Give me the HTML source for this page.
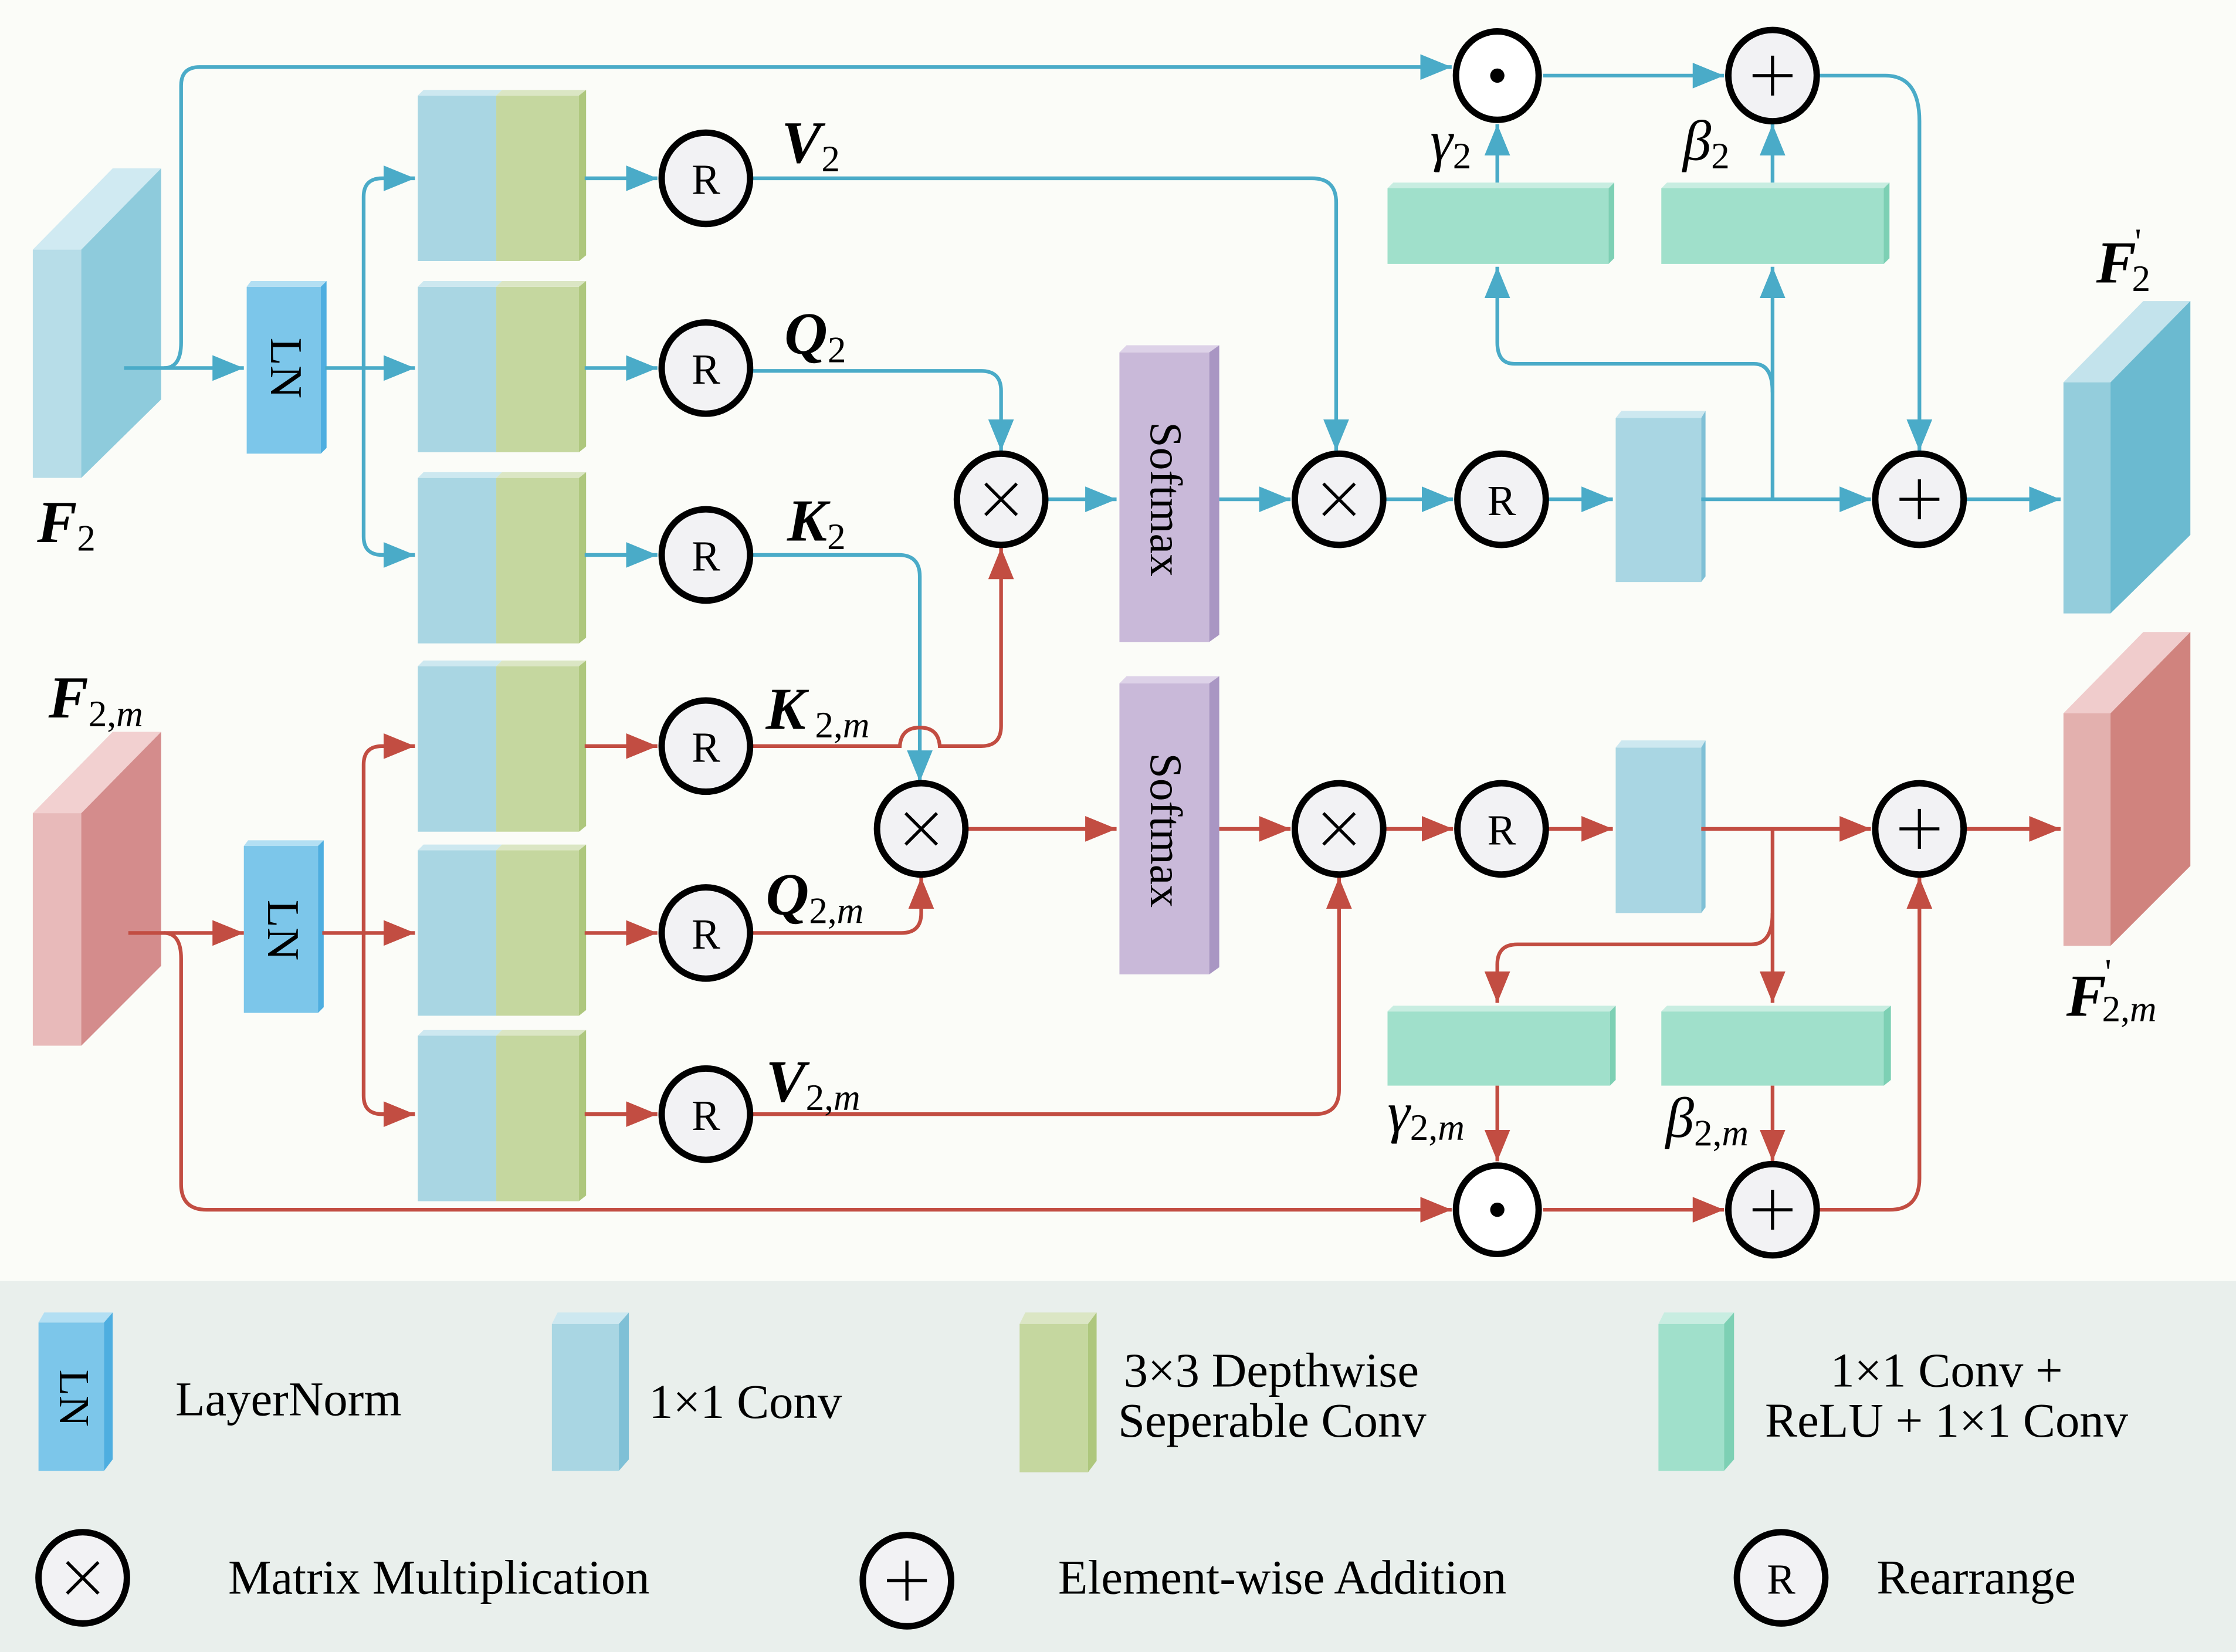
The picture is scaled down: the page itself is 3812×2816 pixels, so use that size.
<!DOCTYPE html>
<html><head><meta charset="utf-8"><style>
html,body{margin:0;padding:0;background:#fbfcf8}
svg{display:block}
text{font-family:"Liberation Serif",serif}
.lb{font-weight:bold;font-style:italic;font-size:42px}
.sb{font-size:26px;font-style:normal;font-weight:normal}
.si{font-size:26px;font-style:italic;font-weight:normal}
.c{fill:#f2f2f4;stroke:#000;stroke-width:4.5}
.bl{fill:none;stroke:#4aabc8;stroke-width:2.6}
.rd{fill:none;stroke:#c24d42;stroke-width:2.6}
.ct{font-size:30px;text-anchor:middle}
.lg{font-size:34px}
</style></head><body>
<svg width="3812" height="2816" viewBox="0 0 1568 1158" preserveAspectRatio="none" xmlns="http://www.w3.org/2000/svg">
<defs>
<marker id="ab" markerUnits="userSpaceOnUse" markerWidth="24" markerHeight="20" refX="22" refY="10" orient="auto"><path d="M0,1 L22,10 L0,19 z" fill="#4aabc8"/></marker>
<marker id="ar" markerUnits="userSpaceOnUse" markerWidth="24" markerHeight="20" refX="22" refY="10" orient="auto"><path d="M0,1 L22,10 L0,19 z" fill="#c24d42"/></marker>
</defs>
<rect x="0" y="0" width="1568" height="1158" fill="#fbfcf8"/>
<rect x="0" y="898" width="1568" height="260" fill="#e9efec"/>

<polygon points="23,175 79,118 113,118 57,175" fill="#d0eaf2"/>
<rect x="23" y="175" width="34" height="160" fill="#b7dde8"/>
<polygon points="57,175 113,118 113,280 57,335" fill="#8ecbdc"/>
<polygon points="23,570 79,513 113,513 57,570" fill="#f2d0d0"/>
<rect x="23" y="570" width="34" height="163" fill="#e8baba"/>
<polygon points="57,570 113,513 113,677 57,733" fill="#d48c8c"/>
<polygon points="1447,268 1503,211 1536,211 1480,268" fill="#c3e3ec"/>
<rect x="1447" y="268" width="33" height="162" fill="#94cddc"/>
<polygon points="1480,268 1536,211 1536,375 1480,430" fill="#6bbad0"/>
<polygon points="1447,500 1503,443 1536,443 1480,500" fill="#f0cccc"/>
<rect x="1447" y="500" width="33" height="163" fill="#e3b0ae"/>
<polygon points="1480,500 1536,443 1536,607 1480,663" fill="#d0837e"/>

<g>
<rect x="173" y="201" width="52" height="117" fill="#7cc6ea"/><polygon points="173,201 176,197 229,197 225,201" fill="#b3dff3"/><polygon points="225,201 229,197 229,314 225,318" fill="#4eaee0"/>
<text transform="translate(190,258) rotate(90)" font-size="32" text-anchor="middle">LN</text>
<rect x="171" y="593" width="52" height="117" fill="#7cc6ea"/><polygon points="171,593 174,589 227,589 223,593" fill="#b3dff3"/><polygon points="223,593 227,589 227,706 223,710" fill="#4eaee0"/>
<text transform="translate(188,652) rotate(90)" font-size="32" text-anchor="middle">LN</text>
</g>

<g id="cb">
<rect x="293" y="67" width="55" height="116" fill="#a9d6e3"/><polygon points="293,67 297,63 352,63 348,67" fill="#cde8f0"/>
<rect x="348" y="67" width="58" height="116" fill="#c5d79f"/><polygon points="348,67 352,63 411,63 406,67" fill="#dbe6c4"/><polygon points="406,67 411,63 411,179 406,183" fill="#aec77d"/>
</g>
<use href="#cb" y="134"/><use href="#cb" y="268"/><use href="#cb" y="400"/><use href="#cb" y="529"/><use href="#cb" y="659"/>

<rect x="785" y="247" width="63" height="203" fill="#c9b9d9"/><polygon points="785,247 790,242 855,242 848,247" fill="#ddd2e8"/><polygon points="848,247 855,242 855,445 848,450" fill="#a996c3"/>
<text transform="translate(807,350) rotate(90)" font-size="32" text-anchor="middle">Softmax</text>
<rect x="785" y="479" width="63" height="204" fill="#c9b9d9"/><polygon points="785,479 790,474 855,474 848,479" fill="#ddd2e8"/><polygon points="848,479 855,474 855,678 848,683" fill="#a996c3"/>
<text transform="translate(807,582) rotate(90)" font-size="32" text-anchor="middle">Softmax</text>

<rect x="1133" y="293" width="60" height="115" fill="#a9d6e3"/><polygon points="1133,293 1137,288 1196,288 1193,293" fill="#cde8f0"/><polygon points="1193,293 1196,288 1196,404 1193,408" fill="#7fc0d6"/>
<rect x="1133" y="524" width="60" height="116" fill="#a9d6e3"/><polygon points="1133,524 1137,519 1196,519 1193,524" fill="#cde8f0"/><polygon points="1193,524 1196,519 1196,636 1193,640" fill="#7fc0d6"/>

<g fill="#a0e0cb">
<rect x="973" y="132" width="155" height="53"/><rect x="1165" y="132" width="156" height="53"/>
<rect x="973" y="709" width="156" height="52"/><rect x="1165" y="709" width="156" height="52"/>
</g>
<g fill="#c8ede1"><polygon points="973,132 977,128 1132,128 1128,132"/><polygon points="1165,132 1169,128 1325,128 1321,132"/><polygon points="973,709 977,705 1133,705 1129,709"/><polygon points="1165,709 1169,705 1326,705 1321,709"/></g>
<g fill="#7dd0b4"><polygon points="1128,132 1132,128 1132,181 1128,185"/><polygon points="1321,132 1325,128 1325,181 1321,185"/><polygon points="1129,709 1133,705 1133,757 1129,761"/><polygon points="1321,709 1326,705 1326,757 1321,761"/></g>

<g class="bl">
<path d="M87,258 H171" marker-end="url(#ab)"/>
<path d="M115,258 Q127,258 127,240 V60 Q127,47 140,47 H1018" marker-end="url(#ab)"/>
<path d="M228,258 H291" marker-end="url(#ab)"/>
<path d="M255,258 V138 Q255,125 268,125 H291" marker-end="url(#ab)"/>
<path d="M255,258 V376 Q255,389 268,389 H291" marker-end="url(#ab)"/>
<path d="M410,125 H461" marker-end="url(#ab)"/>
<path d="M410,258 H461" marker-end="url(#ab)"/>
<path d="M410,389 H461" marker-end="url(#ab)"/>
<path d="M527,125 H920 Q937,125 937,142 V316" marker-end="url(#ab)"/>
<path d="M527,260 H688 Q702,260 702,274 V316" marker-end="url(#ab)"/>
<path d="M527,389 H630 Q645,389 645,404 V548" marker-end="url(#ab)"/>
<path d="M734,350 H783" marker-end="url(#ab)"/>
<path d="M855,350 H905" marker-end="url(#ab)"/>
<path d="M971,350 H1019" marker-end="url(#ab)"/>
<path d="M1085,350 H1131" marker-end="url(#ab)"/>
<path d="M1193,350 H1312" marker-end="url(#ab)"/>
<path d="M1378,350 H1445" marker-end="url(#ab)"/>
<path d="M1243,350 V187" marker-end="url(#ab)"/>
<path d="M1243,275 Q1243,255 1230,255 H1062 Q1050,255 1050,240 V187" marker-end="url(#ab)"/>
<path d="M1050,128 V87" marker-end="url(#ab)"/>
<path d="M1243,128 V87" marker-end="url(#ab)"/>
<path d="M1082,53 H1209" marker-end="url(#ab)"/>
<path d="M1275,53 H1322 Q1346,53 1346,85 V316" marker-end="url(#ab)"/>
</g>

<g class="rd">
<path d="M90,654 H171" marker-end="url(#ar)"/>
<path d="M115,654 Q127,654 127,672 V830 Q127,848 145,848 H1018" marker-end="url(#ar)"/>
<path d="M226,654 H291" marker-end="url(#ar)"/>
<path d="M255,654 V536 Q255,523 268,523 H291" marker-end="url(#ar)"/>
<path d="M255,654 V768 Q255,781 268,781 H291" marker-end="url(#ar)"/>
<path d="M410,523 H461" marker-end="url(#ar)"/>
<path d="M410,654 H461" marker-end="url(#ar)"/>
<path d="M410,781 H461" marker-end="url(#ar)"/>
<path d="M527,523 H631 Q632,510 645,510 Q658,510 659,523 H688 Q702,523 702,509 V384" marker-end="url(#ar)"/>
<path d="M527,654 H632 Q646,654 646,640 V615" marker-end="url(#ar)"/>
<path d="M678,581 H783" marker-end="url(#ar)"/>
<path d="M855,581 H905" marker-end="url(#ar)"/>
<path d="M971,581 H1019" marker-end="url(#ar)"/>
<path d="M1085,581 H1131" marker-end="url(#ar)"/>
<path d="M1193,581 H1312" marker-end="url(#ar)"/>
<path d="M1378,581 H1445" marker-end="url(#ar)"/>
<path d="M527,781 H922 Q939,781 939,764 V615" marker-end="url(#ar)"/>
<path d="M1243,581 V703" marker-end="url(#ar)"/>
<path d="M1243,640 Q1243,662 1228,662 H1064 Q1050,662 1050,676 V703" marker-end="url(#ar)"/>
<path d="M1050,761 V814" marker-end="url(#ar)"/>
<path d="M1243,761 V814" marker-end="url(#ar)"/>
<path d="M1082,848 H1209" marker-end="url(#ar)"/>
<path d="M1275,848 H1325 Q1346,848 1346,826 V615" marker-end="url(#ar)"/>
</g>

<g>
<ellipse class="c" cx="495" cy="125" rx="31" ry="32"/><text class="ct" x="495" y="136">R</text>
<ellipse class="c" cx="495" cy="258" rx="31" ry="32"/><text class="ct" x="495" y="269">R</text>
<ellipse class="c" cx="495" cy="389" rx="31" ry="32"/><text class="ct" x="495" y="400">R</text>
<ellipse class="c" cx="495" cy="523" rx="31" ry="32"/><text class="ct" x="495" y="534">R</text>
<ellipse class="c" cx="495" cy="654" rx="31" ry="32"/><text class="ct" x="495" y="665">R</text>
<ellipse class="c" cx="495" cy="781" rx="31" ry="32"/><text class="ct" x="495" y="792">R</text>
<ellipse class="c" cx="1053" cy="350" rx="31" ry="32"/><text class="ct" x="1053" y="361">R</text>
<ellipse class="c" cx="1053" cy="581" rx="31" ry="32"/><text class="ct" x="1053" y="592">R</text>
<ellipse class="c" cx="702" cy="350" rx="31" ry="32"/>
<ellipse class="c" cx="646" cy="581" rx="31" ry="32"/>
<ellipse class="c" cx="939" cy="350" rx="31" ry="32"/>
<ellipse class="c" cx="939" cy="581" rx="31" ry="32"/>
<ellipse class="c" cx="1050" cy="53" rx="29" ry="31" style="fill:#fff"/><circle cx="1050" cy="53" r="5"/>
<ellipse class="c" cx="1050" cy="848" rx="29" ry="31" style="fill:#fff"/><circle cx="1050" cy="848" r="5"/>
<ellipse class="c" cx="1243" cy="53" rx="31" ry="32"/>
<ellipse class="c" cx="1243" cy="848" rx="31" ry="32"/>
<ellipse class="c" cx="1346" cy="350" rx="31" ry="32"/>
<ellipse class="c" cx="1346" cy="581" rx="31" ry="32"/>
</g>
<g stroke="#000" stroke-width="2.2">
<path d="M691,339 L713,361 M713,339 L691,361"/>
<path d="M635,570 L657,592 M657,570 L635,592"/>
<path d="M928,339 L950,361 M950,339 L928,361"/>
<path d="M928,570 L950,592 M950,570 L928,592"/>
<path d="M1229,53 H1257 M1243,39 V67"/>
<path d="M1229,848 H1257 M1243,834 V862"/>
<path d="M1332,350 H1360 M1346,336 V364"/>
<path d="M1332,581 H1360 M1346,567 V595"/>
</g>

<text class="lb" x="548" y="114">V<tspan class="sb" dy="6">2</tspan></text>
<text class="lb" x="550" y="248">Q<tspan class="sb" dy="6">2</tspan></text>
<text class="lb" x="552" y="379">K<tspan class="sb" dy="6">2</tspan></text>
<text class="lb" x="537" y="511">K<tspan class="sb" dy="6"> 2,</tspan><tspan class="si">m</tspan></text>
<text class="lb" x="537" y="641">Q<tspan class="sb" dy="6">2,</tspan><tspan class="si">m</tspan></text>
<text class="lb" x="537" y="772">V<tspan class="sb" dy="6">2,</tspan><tspan class="si">m</tspan></text>
<text class="lb" x="26" y="380">F<tspan class="sb" dy="6">2</tspan></text>
<text class="lb" x="34" y="503">F<tspan class="sb" dy="6">2,</tspan><tspan class="si">m</tspan></text>
<text class="lb" x="1470" y="198">F</text><text class="sb" x="1497" y="178">'</text><text class="sb" x="1495" y="204">2</text>
<text class="lb" x="1449" y="712">F</text><text class="sb" x="1476" y="690">'</text><text x="1474" y="716"><tspan class="sb">2,</tspan><tspan class="si">m</tspan></text>
<text x="1003" y="112" font-size="40" font-style="italic">γ<tspan font-size="26" font-style="normal" dy="6">2</tspan></text>
<text x="1180" y="112" font-size="40" font-style="italic">β<tspan font-size="26" font-style="normal" dy="6">2</tspan></text>
<text x="973" y="793" font-size="40" font-style="italic">γ<tspan font-size="26" font-style="normal" dy="6">2,</tspan><tspan font-size="26">m</tspan></text>
<text x="1168" y="797" font-size="40" font-style="italic">β<tspan font-size="26" font-style="normal" dy="6">2,</tspan><tspan font-size="26">m</tspan></text>

<rect x="27" y="927" width="46" height="104" fill="#7cc6ea"/><polygon points="27,927 31,920 79,920 73,927" fill="#b3dff3"/><polygon points="73,927 79,920 79,1023 73,1031" fill="#4eaee0"/>
<text transform="translate(42,980) rotate(90)" font-size="30" text-anchor="middle">LN</text>
<text class="lg" x="123" y="992">LayerNorm</text>
<rect x="387" y="928" width="47" height="103" fill="#a9d6e3"/><polygon points="387,928 391,920 441,920 434,928" fill="#cde8f0"/><polygon points="434,928 441,920 441,1023 434,1031" fill="#7fc0d6"/>
<text class="lg" x="455" y="994">1×1 Conv</text>
<rect x="715" y="928" width="48" height="104" fill="#c5d79f"/><polygon points="715,928 719,920 769,920 763,928" fill="#dbe6c4"/><polygon points="763,928 769,920 769,1024 763,1032" fill="#aec77d"/>
<text class="lg" x="788" y="972">3×3 Depthwise</text>
<text class="lg" x="784" y="1007">Seperable Conv</text>
<rect x="1163" y="928" width="46" height="103" fill="#a0e0cb"/><polygon points="1163,928 1167,920 1216,920 1209,928" fill="#c8ede1"/><polygon points="1209,928 1216,920 1216,1023 1209,1031" fill="#7dd0b4"/>
<text class="lg" x="1365" y="972" text-anchor="middle">1×1 Conv +</text>
<text class="lg" x="1365" y="1007" text-anchor="middle">ReLU + 1×1 Conv</text>
<ellipse class="c" cx="58" cy="1106" rx="31" ry="32"/><path d="M47,1095 L69,1117 M69,1095 L47,1117" stroke="#000" stroke-width="2.2"/>
<text class="lg" x="160" y="1117">Matrix Multiplication</text>
<ellipse class="c" cx="636" cy="1108" rx="31" ry="32"/><path d="M622,1108 H650 M636,1094 V1122" stroke="#000" stroke-width="2.2"/>
<text class="lg" x="742" y="1117">Element-wise Addition</text>
<ellipse class="c" cx="1249" cy="1106" rx="31" ry="32"/><text class="ct" x="1249" y="1117">R</text>
<text class="lg" x="1316" y="1117">Rearrange</text>
</svg>
</body></html>
